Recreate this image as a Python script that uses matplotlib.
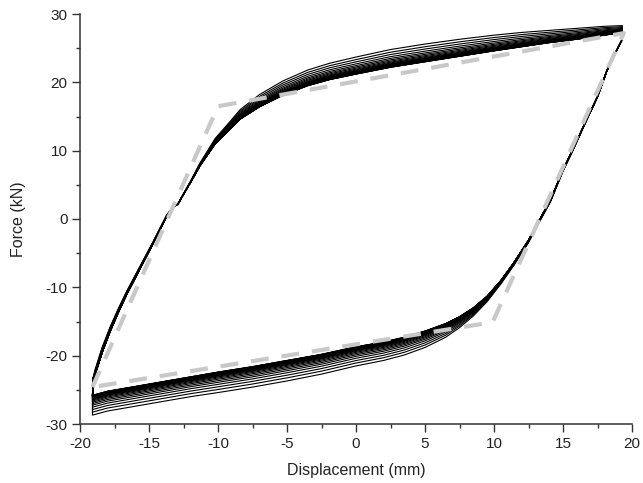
import matplotlib
matplotlib.use("Agg")
import matplotlib.pyplot as plt
import numpy as np
from matplotlib.ticker import MultipleLocator

# ---------------- data ----------------
# Loading branch (ascending + upper), final-cycle position and extra force of the first cycle
upper_x = [-19.05, -18.9, -18.4, -17.8, -17.2, -16.6, -15.65, -14.7, -13.7, -13.25, -12.9,
           -12.5, -12.0, -11.3, -10.2, -9.2, -8.4, -7.0, -5.3, -3.5, -1.9, 0.0, 2.5, 5.0,
           7.5, 10.0, 12.0, 14.0, 16.0, 18.0, 19.3]
upper_y = [-23.8, -22.8, -19.6, -16.4, -13.6, -11.0, -7.3, -3.6, 0.5, 1.7, 2.2,
           3.6, 5.3, 7.8, 11.0, 13.0, 14.6, 16.4, 18.1, 19.5, 20.4, 21.2, 22.2, 23.0,
           23.8, 24.6, 25.2, 25.8, 26.3, 26.9, 27.3]
upper_spread = [0.6, 0.8, 0.8, 0.7, 0.6, 0.5, 0.4, 0.3, 0.15, 0.05, 0,
                0.1, 0.2, 0.4, 0.8, 1.1, 1.4, 1.8, 2.1, 2.3, 2.4, 2.5, 2.6, 2.6,
                2.5, 2.3, 2.1, 1.8, 1.6, 1.3, 1.0]

# Unloading branch (descending + lower)
lower_x = [19.3, 18.9, 18.2, 17.5, 16.7, 15.7, 15.0, 14.1, 13.3, 12.5, 11.4, 10.5, 9.5,
           8.5, 7.5, 6.5, 5.0, 3.5, 2.0, 0.0, -2.5, -5.0, -7.5, -10.0, -12.0, -14.0,
           -16.0, -18.0, -19.1]
lower_y = [26.3, 24.7, 21.8, 17.9, 14.5, 10.1, 7.2, 2.8, -0.1, -3.1, -6.5, -9.0, -11.3,
           -13.0, -14.3, -15.3, -16.4, -17.3, -18.0, -18.7, -19.8, -20.7, -21.6, -22.4,
           -23.1, -23.8, -24.5, -25.2, -25.8]
lower_spread = [0, 0, 0, 0.05, 0.1, 0.15, 0.2, 0.25, 0.3, 0.35, 0.4, 0.5, 0.8,
                1.2, 1.6, 2.0, 2.4, 2.6, 2.7, 2.8, 2.9, 3.0, 3.0, 3.0,
                2.9, 2.9, 2.9, 2.9, 2.9]

# relative size of each recorded cycle (first cycle largest)
cycle_frac = [1.0, 0.85, 0.72, 0.6, 0.5, 0.42, 0.35, 0.29, 0.24, 0.2, 0.17, 0.14,
              0.12, 0.1, 0.085, 0.07, 0.055, 0.045, 0.035, 0.025, 0.018, 0.01, 0.005, 0.0]

# bilinear model (dashed grey)
model_x = [-19.1, -10.0, 19.4, 9.9, -19.1]
model_y = [-24.6, 16.5, 27.2, -15.1, -24.6]

x_ticks = [-20, -15, -10, -5, 0, 5, 10, 15, 20]
y_ticks = [-30, -20, -10, 0, 10, 20, 30]

# ---------------- figure ----------------
plt.rcParams['font.family'] = ['Liberation Sans', 'DejaVu Sans']
plt.rcParams['axes.unicode_minus'] = False
fig = plt.figure(figsize=(6.43, 4.83), dpi=100)
ax = fig.add_axes([80 / 643, 1 - 424 / 483, 552 / 643, 410 / 483])

ux = np.array(upper_x); uy = np.array(upper_y); us = np.array(upper_spread)
lx = np.array(lower_x); ly = np.array(lower_y); ls = np.array(lower_spread)
for f in cycle_frac:
    xs = np.concatenate([ux, lx, ux[:1]])
    ys = np.concatenate([uy + f * us, ly - f * ls, uy[:1] + f * us[:1]])
    ax.plot(xs, ys, color='black', lw=0.8, zorder=2)

ax.plot(model_x, model_y, color='#c8c8c8', lw=3.0, dashes=(4.3, 3.1), zorder=3)

ax.set_xlim(-20, 20)
ax.set_ylim(-30, 30)
ax.set_xticks(x_ticks)
ax.set_yticks(y_ticks)
ax.xaxis.set_minor_locator(MultipleLocator(2.5))
ax.yaxis.set_minor_locator(MultipleLocator(5))
for s in ['top', 'right']:
    ax.spines[s].set_visible(False)
for s in ['left', 'bottom']:
    ax.spines[s].set_color('#333333')
    ax.spines[s].set_linewidth(1.1)
ax.tick_params(which='major', direction='out', length=6, width=1.0, color='#333333',
               labelsize=11, labelcolor='#222222', pad=3)
ax.tick_params(which='minor', direction='out', length=3, width=1.0, color='#333333')

ax.set_xlabel('Displacement (mm)', fontsize=11.5, color='#222222')
ax.set_ylabel('Force (kN)', fontsize=11.5, color='#222222')
ax.xaxis.set_label_coords(0.5, -0.095)
ax.yaxis.set_label_coords(-0.098, 0.5)

fig.savefig('out.png', dpi=100)
